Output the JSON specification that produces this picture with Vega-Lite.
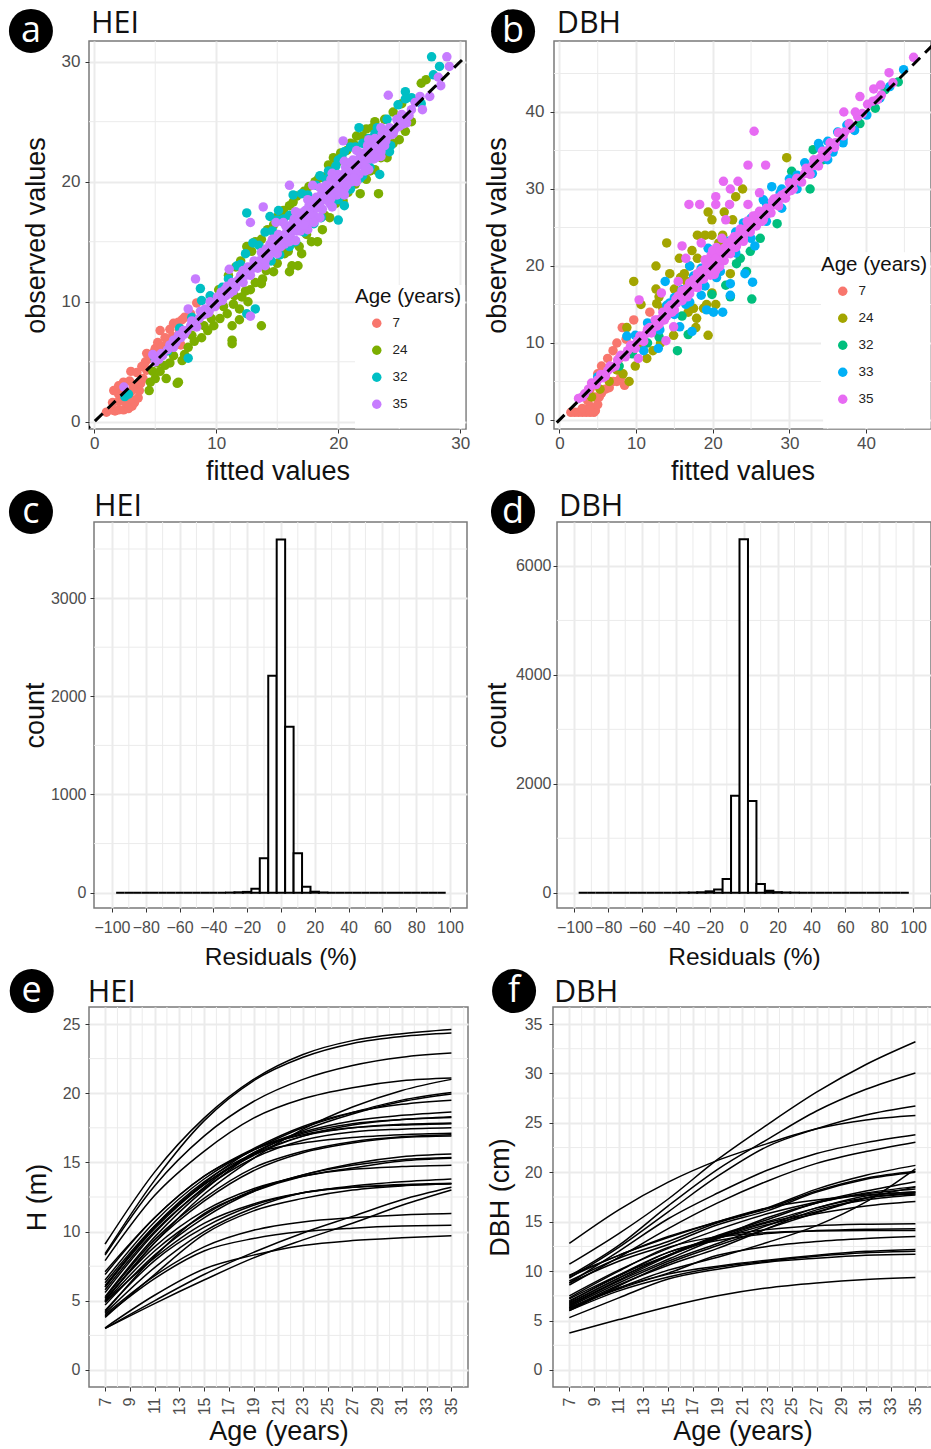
{"$schema":"https://vega.github.io/schema/vega-lite/v6.json","padding":{"left":1,"top":8,"right":0,"bottom":0},"columns":1,"align":"none","spacing":-2,"concat":[
{"columns":1,"align":"none","spacing":4,"concat":[
{"spacing":0,"hconcat":[{"width":1,"height":1,"view":{"stroke":null},"data":{"values":[{"x":0}]},"mark":{"type":"point","opacity":0},"encoding":{}},
{"spacing":11,"resolve":{"scale":{"color":"independent"}},"hconcat":[
{"width":377,"height":388,
"encoding":{"x":{"field":"x","type":"quantitative","scale":{"domain":[-0.43,30.47],"nice":false,"zero":false},"axis":{"values":[0,10,20,30],"title":"fitted values","titlePadding":7}},"y":{"field":"y","type":"quantitative","scale":{"domain":[-0.6,31.72],"nice":false,"zero":false},"axis":{"values":[0,10,20,30],"title":"observed values","labelPadding":5,"titlePadding":11}}},
"layer":[
{"data":{"values":[{"x":5},{"x":15},{"x":25}]},"mark":{"type":"rule","color":"#EBEBEB","strokeWidth":1},"encoding":{"y":null}},
{"data":{"values":[{"y":5},{"y":15},{"y":25}]},"mark":{"type":"rule","color":"#EBEBEB","strokeWidth":1},"encoding":{"x":null}},
{"data":{"values":[{"x":21.37,"x2":30.4,"y":-0.55,"y2":11.4}]},"mark":{"type":"rect","color":"white"},"encoding":{"x2":{"field":"x2"},"y2":{"field":"y2"}}},
{"data":{"values":[
{"x":1.0,"y":0.8,"g":7},{"x":1.4,"y":1.0,"g":7},{"x":1.7,"y":0.9,"g":7},{"x":2.0,"y":1.0,"g":7},{"x":2.4,"y":1.0,"g":7},{"x":2.8,"y":1.1,"g":7},{"x":3.1,"y":1.3,"g":7},{"x":3.3,"y":1.6,"g":7},{"x":1.5,"y":1.6,"g":7},{"x":2.0,"y":1.7,"g":7},{"x":2.6,"y":1.6,"g":7},{"x":3.0,"y":1.9,"g":7},{"x":3.6,"y":2.0,"g":7},{"x":1.6,"y":2.6,"g":7},{"x":2.0,"y":3.0,"g":7},{"x":2.5,"y":2.3,"g":7},{"x":2.0,"y":2.3,"g":7},{"x":3.1,"y":2.6,"g":7},{"x":3.7,"y":2.6,"g":7},{"x":2.4,"y":3.3,"g":7},{"x":2.9,"y":3.4,"g":7},{"x":3.2,"y":3.0,"g":7},{"x":3.8,"y":3.2,"g":7},{"x":3.0,"y":4.2,"g":7},{"x":3.5,"y":4.1,"g":7},{"x":4.0,"y":3.6,"g":7},{"x":3.9,"y":4.6,"g":7},{"x":4.3,"y":4.3,"g":7},{"x":4.2,"y":5.0,"g":7},{"x":4.6,"y":5.3,"g":7},{"x":4.3,"y":5.7,"g":7},{"x":4.9,"y":5.8,"g":7},{"x":5.0,"y":6.1,"g":7},{"x":5.1,"y":5.0,"g":7},{"x":5.2,"y":6.6,"g":7},{"x":5.6,"y":6.3,"g":7},{"x":5.4,"y":7.6,"g":7},{"x":5.8,"y":7.0,"g":7},{"x":6.2,"y":7.7,"g":7},{"x":6.0,"y":6.5,"g":7},{"x":6.5,"y":8.2,"g":7},{"x":6.4,"y":7.1,"g":7},{"x":6.9,"y":8.3,"g":7},{"x":7.2,"y":8.5,"g":7},{"x":7.4,"y":8.7,"g":7},{"x":7.9,"y":9.0,"g":7},{"x":8.4,"y":9.9,"g":7},{"x":7.0,"y":7.6,"g":7},{"x":7.1,"y":6.4,"g":7},
{"x":4.5,"y":2.6,"g":24},{"x":4.6,"y":3.3,"g":24},{"x":5.0,"y":3.6,"g":24},{"x":5.9,"y":3.6,"g":24},{"x":6.9,"y":3.3,"g":24},{"x":6.8,"y":3.2,"g":24},{"x":4.8,"y":4.2,"g":24},{"x":5.4,"y":4.2,"g":24},{"x":5.8,"y":4.7,"g":24},{"x":6.2,"y":4.9,"g":24},{"x":7.2,"y":5.1,"g":24},{"x":7.4,"y":5.6,"g":24},{"x":7.7,"y":6.2,"g":24},{"x":8.2,"y":6.7,"g":24},{"x":8.8,"y":7.0,"g":24},{"x":9.3,"y":7.6,"g":24},{"x":9.8,"y":8.0,"g":24},{"x":10.3,"y":8.6,"g":24},{"x":10.9,"y":9.0,"g":24},{"x":11.3,"y":8.0,"g":24},{"x":13.7,"y":8.0,"g":24},{"x":11.3,"y":6.8,"g":24},{"x":11.3,"y":6.5,"g":24},{"x":12.6,"y":10,"g":24},{"x":11.9,"y":9.4,"g":24},{"x":11.9,"y":8.5,"g":24},{"x":11.4,"y":9.8,"g":24},{"x":12.1,"y":10.4,"g":24},{"x":12.8,"y":11,"g":24},{"x":13.7,"y":11.5,"g":24},{"x":13.8,"y":11.9,"g":24},{"x":14.7,"y":12.5,"g":24},{"x":16,"y":12.5,"g":24},{"x":16.2,"y":13,"g":24},{"x":16.7,"y":13,"g":24},{"x":15.6,"y":14,"g":24},{"x":17,"y":14,"g":24},{"x":16.8,"y":14.6,"g":24},{"x":17.8,"y":15,"g":24},{"x":18.3,"y":15,"g":24},{"x":18.7,"y":16,"g":24},{"x":19.3,"y":17,"g":24},{"x":20.4,"y":18.4,"g":24},{"x":21.8,"y":19,"g":24},{"x":23.3,"y":19,"g":24},{"x":22.3,"y":20.2,"g":24},{"x":23,"y":21,"g":24},{"x":24,"y":22,"g":24},{"x":25,"y":23.5,"g":24},{"x":25.5,"y":24.2,"g":24},{"x":26,"y":25,"g":24},{"x":10.2,"y":11,"g":24},{"x":11,"y":12.2,"g":24},{"x":11.6,"y":12.9,"g":24},{"x":12.5,"y":14.6,"g":24},{"x":13.2,"y":15,"g":24},{"x":14.2,"y":16,"g":24},{"x":15.1,"y":17.2,"g":24},{"x":16,"y":18,"g":24},{"x":16.6,"y":18.8,"g":24},{"x":17.2,"y":19.2,"g":24},{"x":18.1,"y":20,"g":24},{"x":18.7,"y":20.4,"g":24},{"x":19.2,"y":21.4,"g":24},{"x":19.6,"y":22,"g":24},{"x":20.2,"y":22.4,"g":24},{"x":21,"y":23.2,"g":24},{"x":21.5,"y":23.8,"g":24},{"x":22.3,"y":24.4,"g":24},{"x":23,"y":25,"g":24},{"x":23.5,"y":24.2,"g":24},{"x":24.5,"y":25.8,"g":24},{"x":25.2,"y":26.5,"g":24},{"x":26.8,"y":28.2,"g":24},{"x":27.2,"y":28.5,"g":24},{"x":12.4,"y":10.9,"g":24},{"x":13.2,"y":11.6,"g":24},{"x":14.1,"y":12.6,"g":24},{"x":15,"y":13.2,"g":24},{"x":15.9,"y":14.2,"g":24},{"x":16.5,"y":14.9,"g":24},{"x":17.4,"y":15.6,"g":24},{"x":18.9,"y":17.2,"g":24},{"x":19.8,"y":18.2,"g":24},{"x":20.8,"y":19.1,"g":24},{"x":21.4,"y":19.8,"g":24},{"x":22.6,"y":20.9,"g":24},{"x":23.5,"y":22,"g":24},{"x":24.5,"y":23.2,"g":24},{"x":12,"y":13.4,"g":24},{"x":12.9,"y":14.2,"g":24},{"x":13.7,"y":15.2,"g":24},{"x":14.7,"y":16.4,"g":24},{"x":15.5,"y":17.6,"g":24},{"x":16.3,"y":18.3,"g":24},{"x":17.6,"y":19.6,"g":24},{"x":18.4,"y":20.3,"g":24},{"x":19.9,"y":21.6,"g":24},{"x":20.7,"y":22.6,"g":24},{"x":21.3,"y":23.1,"g":24},{"x":22,"y":23.8,"g":24},{"x":22.8,"y":24.5,"g":24},{"x":23.8,"y":25.2,"g":24},{"x":5.2,"y":4.9,"g":24},{"x":6.5,"y":5.5,"g":24},{"x":8,"y":7.2,"g":24},{"x":9,"y":8,"g":24},{"x":9.6,"y":8.6,"g":24},{"x":10.6,"y":9.6,"g":24},{"x":11.5,"y":10.5,"g":24},
{"x":27.65,"y":30.4,"g":32},{"x":28.3,"y":29.6,"g":32},{"x":25.5,"y":27.5,"g":32},{"x":25.5,"y":26.9,"g":32},{"x":24.9,"y":26.4,"g":32},{"x":21.7,"y":24.5,"g":32},{"x":23.4,"y":20.6,"g":32},{"x":24.2,"y":22.5,"g":32},{"x":12.5,"y":17.4,"g":32},{"x":14.4,"y":17.1,"g":32},{"x":15.1,"y":17.6,"g":32},{"x":16.3,"y":18.9,"g":32},{"x":20,"y":16.8,"g":32},{"x":20.5,"y":18,"g":32},{"x":13.2,"y":9.4,"g":32},{"x":12.5,"y":9,"g":32},{"x":8.7,"y":11.1,"g":32},{"x":8.8,"y":10.1,"g":32},{"x":7.7,"y":5.3,"g":32},{"x":2.5,"y":2.1,"g":32},{"x":2.8,"y":2.3,"g":32},{"x":27.8,"y":28.9,"g":32},{"x":26.8,"y":26.5,"g":32},{"x":5,"y":5.2,"g":32},{"x":6,"y":5.9,"g":32},{"x":7,"y":7.8,"g":32},{"x":8,"y":8.7,"g":32},{"x":9.5,"y":10.5,"g":32},{"x":10.5,"y":11.2,"g":32},{"x":11.7,"y":13,"g":32},{"x":12.4,"y":14,"g":32},{"x":13,"y":14.9,"g":32},{"x":14,"y":15.8,"g":32},{"x":15,"y":16.8,"g":32},{"x":17,"y":19,"g":32},{"x":18.5,"y":20.5,"g":32},{"x":19,"y":20.2,"g":32},{"x":20,"y":21.8,"g":32},{"x":20.5,"y":22.5,"g":32},{"x":21,"y":22.9,"g":32},{"x":22.5,"y":23.6,"g":32},{"x":23.2,"y":24.5,"g":32},{"x":24,"y":25.2,"g":32},{"x":14.5,"y":13.4,"g":32},{"x":16.5,"y":15,"g":32},{"x":18,"y":16.5,"g":32},{"x":19.5,"y":18,"g":32},{"x":21,"y":19.4,"g":32},{"x":22,"y":20.5,"g":32},{"x":23,"y":22,"g":32},{"x":26,"y":27,"g":32},{"x":11,"y":11.9,"g":32},{"x":12,"y":13.1,"g":32},{"x":13.5,"y":14.7,"g":32},{"x":14.6,"y":15.9,"g":32},{"x":15.5,"y":16.9,"g":32},{"x":16,"y":17.2,"g":32},{"x":17.5,"y":18.9,"g":32},{"x":18.2,"y":19.7,"g":32},{"x":19.2,"y":20.9,"g":32},{"x":19.8,"y":21.3,"g":32},{"x":20.3,"y":22,"g":32},{"x":21.4,"y":22.9,"g":32},{"x":22,"y":23.2,"g":32},{"x":23,"y":24,"g":32},{"x":15.2,"y":13.9,"g":32},{"x":16,"y":14.6,"g":32},{"x":17.2,"y":15.8,"g":32},{"x":18.6,"y":17,"g":32},{"x":20,"y":18.5,"g":32},{"x":20.8,"y":19.3,"g":32},{"x":21.8,"y":20.3,"g":32},{"x":22.6,"y":21.2,"g":32},{"x":24.3,"y":23,"g":32},
{"x":2.43,"y":2.9,"g":35},{"x":8.3,"y":11.9,"g":35},{"x":7.7,"y":9.4,"g":35},{"x":12.8,"y":8.8,"g":35},{"x":13.85,"y":17.9,"g":35},{"x":12.8,"y":16.6,"g":35},{"x":14.9,"y":16.6,"g":35},{"x":16,"y":19.7,"g":35},{"x":17.9,"y":19.7,"g":35},{"x":11.06,"y":12.7,"g":35},{"x":20.4,"y":23.4,"g":35},{"x":24.1,"y":27.2,"g":35},{"x":28.9,"y":30.4,"g":35},{"x":29.1,"y":29.6,"g":35},{"x":28.4,"y":28,"g":35},{"x":27.5,"y":27.1,"g":35},{"x":28.2,"y":28.7,"g":35},{"x":26.7,"y":27.1,"g":35},{"x":26.3,"y":26.6,"g":35},{"x":26.9,"y":26.0,"g":35},{"x":25.4,"y":25.3,"g":35},{"x":24.9,"y":25.0,"g":35},{"x":25.6,"y":24.9,"g":35},
{"x":4.8,"y":5.6,"g":35},{"x":5.3,"y":5.2,"g":35},{"x":5.5,"y":5.7,"g":35},{"x":6.2,"y":6.4,"g":35},{"x":6.7,"y":6.6,"g":35},{"x":6.9,"y":7.2,"g":35},{"x":7.6,"y":7.6,"g":35},{"x":8,"y":8.4,"g":35},{"x":8.4,"y":7.9,"g":35},{"x":8.9,"y":8.9,"g":35},{"x":9.4,"y":9.1,"g":35},{"x":9.5,"y":10,"g":35},{"x":9.9,"y":9.6,"g":35},{"x":10.1,"y":10.4,"g":35},{"x":10.5,"y":10.1,"g":35},{"x":10.7,"y":11,"g":35},{"x":11.1,"y":10.7,"g":35},{"x":11.3,"y":11.6,"g":35},{"x":11.6,"y":11.2,"g":35},{"x":12,"y":12.2,"g":35},{"x":12.2,"y":11.6,"g":35},{"x":12.6,"y":12.9,"g":35},{"x":12.8,"y":12.2,"g":35},{"x":13.1,"y":13.4,"g":35},{"x":13.4,"y":12.8,"g":35},{"x":13.7,"y":14.1,"g":35},{"x":14,"y":13.4,"g":35},{"x":14.1,"y":14.4,"g":35},{"x":14.5,"y":14.1,"g":35},{"x":14.6,"y":15.2,"g":35},{"x":15,"y":14.4,"g":35},{"x":15.1,"y":15.6,"g":35},{"x":15.4,"y":15.1,"g":35},{"x":15.6,"y":14.8,"g":35},{"x":15.7,"y":16.3,"g":35},{"x":16.1,"y":15.7,"g":35},{"x":16.2,"y":15.2,"g":35},{"x":16.4,"y":16.9,"g":35},{"x":16.7,"y":16.4,"g":35},{"x":16.9,"y":15.9,"g":35},{"x":17,"y":17.4,"g":35},{"x":17.3,"y":17,"g":35},{"x":17.5,"y":16.5,"g":35},{"x":17.6,"y":18,"g":35},{"x":17.9,"y":17.6,"g":35},{"x":18.1,"y":17.1,"g":35},{"x":18.2,"y":18.7,"g":35},{"x":18.5,"y":18.2,"g":35},{"x":18.7,"y":17.7,"g":35},{"x":18.8,"y":19.4,"g":35},{"x":19.1,"y":18.8,"g":35},{"x":19.3,"y":18.2,"g":35},{"x":19.4,"y":20.2,"g":35},{"x":19.7,"y":19.5,"g":35},{"x":19.9,"y":18.9,"g":35},{"x":20,"y":20.6,"g":35},{"x":20.3,"y":20.1,"g":35},{"x":20.5,"y":19.4,"g":35},{"x":20.6,"y":21.2,"g":35},{"x":20.9,"y":20.7,"g":35},{"x":21.1,"y":20,"g":35},{"x":21.2,"y":21.8,"g":35},{"x":21.5,"y":21.2,"g":35},{"x":21.7,"y":20.6,"g":35},{"x":21.8,"y":22.4,"g":35},{"x":22.1,"y":21.8,"g":35},{"x":22.3,"y":21.2,"g":35},{"x":22.4,"y":23,"g":35},{"x":22.7,"y":22.4,"g":35},{"x":22.9,"y":21.9,"g":35},{"x":23,"y":23.6,"g":35},{"x":23.3,"y":23,"g":35},{"x":23.5,"y":22.5,"g":35},{"x":23.6,"y":24,"g":35},{"x":23.9,"y":23.4,"g":35},{"x":24.2,"y":24.5,"g":35},{"x":24.3,"y":23.9,"g":35},
{"x":5,"y":5,"g":35},{"x":5.6,"y":5.5,"g":35},{"x":6,"y":6,"g":35},{"x":6.5,"y":6.8,"g":35},{"x":7.1,"y":7,"g":35},{"x":7.4,"y":7.3,"g":35},{"x":8.1,"y":8,"g":35},{"x":8.6,"y":8.6,"g":35},{"x":9.1,"y":9.4,"g":35},{"x":9.6,"y":9.5,"g":35},{"x":10.2,"y":10,"g":35},{"x":10.8,"y":10.5,"g":35},{"x":11.2,"y":11.2,"g":35},{"x":11.8,"y":11.8,"g":35},{"x":12.4,"y":12.2,"g":35},{"x":13,"y":12.8,"g":35},{"x":13.5,"y":13.4,"g":35},{"x":14,"y":14,"g":35},{"x":14.4,"y":14.8,"g":35},{"x":14.8,"y":14.6,"g":35},{"x":15.2,"y":15.2,"g":35},{"x":15.6,"y":15.6,"g":35},{"x":16,"y":16,"g":35},{"x":16.3,"y":16.6,"g":35},{"x":16.6,"y":15.9,"g":35},{"x":17,"y":16.8,"g":35},{"x":17.3,"y":17.6,"g":35},{"x":17.7,"y":17.2,"g":35},{"x":18,"y":18.2,"g":35},{"x":18.3,"y":17.8,"g":35},{"x":18.6,"y":18.9,"g":35},{"x":19,"y":18.5,"g":35},{"x":19.2,"y":19.4,"g":35},{"x":19.6,"y":19,"g":35},{"x":19.9,"y":20,"g":35},{"x":20.2,"y":19.7,"g":35},{"x":20.5,"y":20.7,"g":35},{"x":20.8,"y":20.2,"g":35},{"x":21.1,"y":21.3,"g":35},{"x":21.4,"y":20.7,"g":35},{"x":21.7,"y":21.9,"g":35},{"x":22,"y":21.4,"g":35},{"x":22.3,"y":22.5,"g":35},{"x":22.6,"y":21.9,"g":35},{"x":22.9,"y":23.1,"g":35},{"x":23.2,"y":22.6,"g":35},{"x":23.5,"y":23.4,"g":35},{"x":23.8,"y":23,"g":35},{"x":24.1,"y":24,"g":35},{"x":24.6,"y":24.3,"g":35},{"x":25,"y":24.6,"g":35},{"x":25.2,"y":25.6,"g":35},{"x":25.8,"y":25.5,"g":35},{"x":26,"y":26,"g":35},{"x":16.5,"y":15.1,"g":35},{"x":17.5,"y":16,"g":35},{"x":18.5,"y":17,"g":35},{"x":19.5,"y":17.9,"g":35},{"x":20.5,"y":18.9,"g":35},{"x":21.5,"y":20,"g":35},{"x":22.5,"y":21,"g":35},{"x":15,"y":14,"g":35},{"x":14,"y":13,"g":35},{"x":16,"y":15,"g":35},{"x":23.5,"y":22.1,"g":35},{"x":15.5,"y":16.6,"g":35},{"x":16.5,"y":17.5,"g":35},{"x":17.5,"y":18.5,"g":35},{"x":18.5,"y":19.5,"g":35},{"x":19.5,"y":20.7,"g":35},{"x":20.5,"y":21.7,"g":35},{"x":21.5,"y":22.6,"g":35},{"x":22.5,"y":23.5,"g":35},{"x":23.5,"y":24.5,"g":35},
{"x":12.2,"y":12.6,"g":35},{"x":12.7,"y":12.5,"g":35},{"x":13.3,"y":13.1,"g":35},{"x":13.8,"y":13.6,"g":35},{"x":14.3,"y":13.8,"g":35},{"x":14.8,"y":15.2,"g":35},{"x":15.3,"y":14.6,"g":35},{"x":15.8,"y":15.4,"g":35},{"x":16.2,"y":16.4,"g":35},{"x":16.8,"y":17,"g":35},{"x":17.2,"y":16.4,"g":35},{"x":17.8,"y":18.4,"g":35},{"x":18,"y":16.6,"g":35},{"x":18.4,"y":18.5,"g":35},{"x":19,"y":19.7,"g":35},{"x":19.4,"y":18.6,"g":35},{"x":19.8,"y":20.3,"g":35},{"x":20,"y":19.2,"g":35},{"x":20.4,"y":20.4,"g":35},{"x":20.7,"y":19.7,"g":35},{"x":21,"y":21.6,"g":35},{"x":21.3,"y":20.3,"g":35},{"x":21.6,"y":21.5,"g":35},{"x":21.9,"y":22.2,"g":35},{"x":22.2,"y":20.9,"g":35},{"x":22.5,"y":22.1,"g":35},{"x":22.8,"y":22.7,"g":35},{"x":23.1,"y":22,"g":35},{"x":23.4,"y":23.4,"g":35},{"x":24.5,"y":24,"g":35},{"x":24.8,"y":25.2,"g":35},{"x":25.3,"y":24.8,"g":35},{"x":10.4,"y":10.8,"g":35},{"x":10.9,"y":11.3,"g":35},{"x":11.4,"y":10.9,"g":35},{"x":9.2,"y":9,"g":35},{"x":8.7,"y":9.2,"g":35},{"x":7.9,"y":8,"g":35},{"x":7.3,"y":7.6,"g":35},{"x":6.5,"y":6.2,"g":35}
]},"mark":{"type":"point","filled":true,"opacity":1,"size":90,"strokeWidth":0},"encoding":{"color":{"field":"g","type":"nominal","scale":{"domain":[7,24,32,35],"range":["#F8766D","#7CAE00","#00BFC4","#C77CFF"]},"legend":{"title":"Age (years)","orient":"none","legendX":266,"legendY":246,"fillColor":"white","symbolOffset":15,"labelOffset":9,"rowPadding":12}}}},
{"data":{"values":[{"x":-1,"y":-1},{"x":33,"y":33}]},"mark":{"type":"line","color":"black","strokeWidth":3,"strokeDash":[11,7],"clip":true}},
{"data":{"values":[{"x":-5.19,"y":32.56}]},"mark":{"type":"point","filled":true,"opacity":1,"size":1936,"color":"black","strokeWidth":0}},
{"data":{"values":[{"x":-5.19,"y":32.56,"t":"a"}]},"mark":{"type":"text","color":"white","font":"Open Sans","fontSize":36,"baseline":"middle","align":"center"},"encoding":{"text":{"field":"t"}}},
{"data":{"values":[{"x":-0.27,"y":32.4,"t":"HEI"}]},"mark":{"type":"text","color":"#111111","font":"Open Sans","fontSize":30.5,"baseline":"alphabetic","align":"left"},"encoding":{"text":{"field":"t"}}}
]},
{"width":377,"height":388,
"encoding":{"x":{"field":"x","type":"quantitative","scale":{"domain":[-0.7,48.47],"nice":false,"zero":false},"axis":{"values":[0,10,20,30,40],"title":"fitted values","titlePadding":7}},"y":{"field":"y","type":"quantitative","scale":{"domain":[-1.17,49.22],"nice":false,"zero":false},"axis":{"values":[0,10,20,30,40],"title":"observed values","labelPadding":6,"titlePadding":14}}},
"layer":[
{"data":{"values":[{"x":5},{"x":15},{"x":25},{"x":35},{"x":45}]},"mark":{"type":"rule","color":"#EBEBEB","strokeWidth":1},"encoding":{"y":null}},
{"data":{"values":[{"y":5},{"y":15},{"y":25},{"y":35},{"y":45}]},"mark":{"type":"rule","color":"#EBEBEB","strokeWidth":1},"encoding":{"x":null}},
{"data":{"values":[{"x":34.4,"x2":48.4,"y":-1.1,"y2":21.8}]},"mark":{"type":"rect","color":"white"},"encoding":{"x2":{"field":"x2"},"y2":{"field":"y2"}}},
{"data":{"values":[
{"x":1.5,"y":1,"g":7},{"x":2,"y":1,"g":7},{"x":2.5,"y":1,"g":7},{"x":3,"y":1,"g":7},{"x":3.5,"y":1,"g":7},{"x":4,"y":1,"g":7},{"x":4.5,"y":1,"g":7},{"x":4.7,"y":1.2,"g":7},{"x":3,"y":1.5,"g":7},{"x":4,"y":1.8,"g":7},{"x":5,"y":2,"g":7},{"x":5.2,"y":3,"g":7},{"x":5.5,"y":3.5,"g":7},{"x":6,"y":4,"g":7},{"x":6.5,"y":4.2,"g":7},{"x":7,"y":5,"g":7},{"x":7.5,"y":5,"g":7},{"x":8,"y":5.5,"g":7},{"x":8.5,"y":4.5,"g":7},{"x":4,"y":4,"g":7},{"x":5,"y":6,"g":7},{"x":5.5,"y":7,"g":7},{"x":6.3,"y":8,"g":7},{"x":7,"y":9,"g":7},{"x":7.5,"y":10,"g":7},{"x":8.2,"y":12,"g":7},{"x":9.7,"y":13,"g":7},{"x":11.8,"y":14,"g":7},{"x":8.7,"y":10.5,"g":7},{"x":7.8,"y":8,"g":7},{"x":3.7,"y":2.5,"g":7},{"x":4.6,"y":3,"g":7},
{"x":29.65,"y":34.07,"g":24},{"x":23.9,"y":30,"g":24},{"x":23,"y":29,"g":24},{"x":19.4,"y":27,"g":24},{"x":19.9,"y":26,"g":24},{"x":21.5,"y":27,"g":24},{"x":22.6,"y":26,"g":24},{"x":18,"y":24,"g":24},{"x":19,"y":24,"g":24},{"x":19.9,"y":24,"g":24},{"x":21.3,"y":24,"g":24},{"x":14,"y":23,"g":24},{"x":17.3,"y":22,"g":24},{"x":12.6,"y":20,"g":24},{"x":15.65,"y":21,"g":24},{"x":14.4,"y":19,"g":24},{"x":9.7,"y":18,"g":24},{"x":12.6,"y":17,"g":24},{"x":10.65,"y":15,"g":24},{"x":12.7,"y":15.1,"g":24},{"x":16.3,"y":19,"g":24},{"x":16.6,"y":18,"g":24},{"x":17.9,"y":13.2,"g":24},{"x":17.8,"y":12,"g":24},{"x":19.4,"y":11,"g":24},{"x":14.9,"y":11,"g":24},{"x":11.4,"y":8,"g":24},{"x":9.9,"y":7,"g":24},{"x":9.1,"y":5,"g":24},{"x":8.3,"y":6,"g":24},{"x":5.3,"y":4,"g":24},{"x":4.2,"y":3,"g":24},{"x":19.9,"y":16.5,"g":24},{"x":18.8,"y":14.5,"g":24},{"x":8.8,"y":12,"g":24},{"x":22.3,"y":19,"g":24},{"x":13,"y":16,"g":24},{"x":13.5,"y":14.5,"g":24},{"x":15,"y":17,"g":24},{"x":15.8,"y":18.5,"g":24},{"x":17,"y":20,"g":24},{"x":18,"y":21,"g":24},{"x":16.8,"y":14,"g":24},{"x":17.5,"y":14.5,"g":24},{"x":19.2,"y":15,"g":24},{"x":20.4,"y":15,"g":24},{"x":13.2,"y":10,"g":24},{"x":12.2,"y":9,"g":24},{"x":10.8,"y":9.5,"g":24},{"x":6.5,"y":5,"g":24},{"x":7.5,"y":6.5,"g":24},{"x":20.8,"y":23,"g":24},
{"x":32.7,"y":30,"g":32},{"x":28.4,"y":25.5,"g":32},{"x":26.2,"y":23.6,"g":32},{"x":24.9,"y":21.9,"g":32},{"x":24.4,"y":19.3,"g":32},{"x":25.1,"y":15.7,"g":32},{"x":22.3,"y":16,"g":32},{"x":21.7,"y":17.5,"g":32},{"x":15.4,"y":9,"g":32},{"x":16.8,"y":11.1,"g":32},{"x":44.2,"y":43.9,"g":32},{"x":42.5,"y":42.9,"g":32},{"x":41.2,"y":40.5,"g":32},{"x":39.2,"y":38.5,"g":32},{"x":34.4,"y":33.8,"g":32},{"x":33.1,"y":35.1,"g":32},{"x":30.3,"y":32.3,"g":32},{"x":23.1,"y":20.3,"g":32},{"x":23.6,"y":21,"g":32},{"x":19.9,"y":16.3,"g":32},{"x":16,"y":13.5,"g":32},{"x":13,"y":10.8,"g":32},{"x":11.5,"y":10,"g":32},{"x":9.5,"y":8.6,"g":32},{"x":7.8,"y":7,"g":32},
{"x":44.9,"y":45.5,"g":33},{"x":43.1,"y":43.3,"g":33},{"x":41.8,"y":41.8,"g":33},{"x":40.1,"y":39.6,"g":33},{"x":37.5,"y":38.3,"g":33},{"x":37,"y":36.4,"g":33},{"x":33.8,"y":35.9,"g":33},{"x":35.7,"y":34.8,"g":33},{"x":27.7,"y":30.3,"g":33},{"x":26.6,"y":28.6,"g":33},{"x":25.5,"y":22.6,"g":33},{"x":25.2,"y":17.9,"g":33},{"x":24.2,"y":19,"g":33},{"x":22.3,"y":17.7,"g":33},{"x":22.3,"y":16.2,"g":33},{"x":21.3,"y":14,"g":33},{"x":20.1,"y":14,"g":33},{"x":19.2,"y":14.3,"g":33},{"x":17.3,"y":11.5,"g":33},{"x":15.7,"y":12.1,"g":33},{"x":12.9,"y":9.3,"g":33},{"x":11,"y":9,"g":33},{"x":8.8,"y":10.9,"g":33},{"x":13.8,"y":18,"g":33},{"x":17,"y":20,"g":33},{"x":19.4,"y":22.3,"g":33},{"x":14.4,"y":15.2,"g":33},{"x":13.1,"y":11.7,"g":33},{"x":28.8,"y":29.5,"g":33},{"x":24,"y":25.6,"g":33},{"x":20.5,"y":18.5,"g":33},{"x":18.5,"y":16.2,"g":33},{"x":16.5,"y":15,"g":33},{"x":31,"y":31.8,"g":33},{"x":36.3,"y":37.4,"g":33},{"x":38.5,"y":37.6,"g":33},{"x":9.9,"y":11,"g":33},{"x":11.5,"y":12.6,"g":33},{"x":5,"y":5.6,"g":33},{"x":14,"y":14.9,"g":33},{"x":15,"y":15.9,"g":33},{"x":16,"y":16.9,"g":33},{"x":17.5,"y":18.7,"g":33},{"x":18.5,"y":19.7,"g":33},{"x":20,"y":21.5,"g":33},{"x":22,"y":23.2,"g":33},{"x":23,"y":24.4,"g":33},{"x":25,"y":26.2,"g":33},{"x":27,"y":28.1,"g":33},{"x":29,"y":30,"g":33},{"x":30,"y":31.3,"g":33},{"x":32,"y":33.4,"g":33},{"x":34,"y":35.3,"g":33},{"x":35,"y":36.2,"g":33},{"x":13,"y":11.9,"g":33},{"x":15,"y":13.7,"g":33},{"x":17,"y":15.3,"g":33},{"x":19,"y":17.4,"g":33},{"x":21,"y":19.3,"g":33},{"x":23,"y":21.7,"g":33},{"x":25,"y":23.6,"g":33},{"x":27,"y":25.8,"g":33},{"x":29,"y":27.5,"g":33},{"x":31,"y":30,"g":33},{"x":33,"y":32,"g":33},{"x":35,"y":33.8,"g":33},{"x":37,"y":36,"g":33},
{"x":46.2,"y":47.1,"g":35},{"x":43,"y":45.1,"g":35},{"x":41.9,"y":43.5,"g":35},{"x":41,"y":43,"g":35},{"x":39.2,"y":42,"g":35},{"x":38.6,"y":40,"g":35},{"x":37.1,"y":40,"g":35},{"x":25.4,"y":37.5,"g":35},{"x":24.6,"y":33.1,"g":35},{"x":26.9,"y":33.1,"g":35},{"x":21.4,"y":31,"g":35},{"x":23.3,"y":31,"g":35},{"x":22.3,"y":30,"g":35},{"x":20.4,"y":29,"g":35},{"x":16.9,"y":28,"g":35},{"x":18.3,"y":28,"g":35},{"x":20.4,"y":28,"g":35},{"x":22.2,"y":28,"g":35},{"x":24.6,"y":28,"g":35},{"x":26.1,"y":29.5,"g":35},{"x":21.7,"y":26,"g":35},{"x":16,"y":22.6,"g":35},{"x":18.5,"y":23,"g":35},{"x":16.5,"y":21,"g":35},{"x":10.4,"y":15.6,"g":35},{"x":13.3,"y":16.5,"g":35},{"x":15.5,"y":18,"g":35},{"x":13.9,"y":10.3,"g":35},{"x":10.3,"y":8,"g":35},{"x":14.9,"y":12.1,"g":35},
{"x":2.5,"y":2.8,"g":35},{"x":3.3,"y":3.4,"g":35},{"x":4.2,"y":4.8,"g":35},{"x":4.8,"y":4.6,"g":35},{"x":5.4,"y":5.9,"g":35},{"x":6,"y":5.7,"g":35},{"x":6.6,"y":7,"g":35},{"x":7.3,"y":7,"g":35},{"x":8,"y":8.4,"g":35},{"x":8.6,"y":8.2,"g":35},{"x":9.3,"y":9.7,"g":35},{"x":9.9,"y":9.3,"g":35},{"x":10.5,"y":10.9,"g":35},{"x":11,"y":10.2,"g":35},{"x":11.5,"y":11.8,"g":35},{"x":12,"y":11.3,"g":35},{"x":12.5,"y":13,"g":35},{"x":13,"y":12.4,"g":35},{"x":13.5,"y":14,"g":35},{"x":14,"y":13.5,"g":35},{"x":14.5,"y":14.9,"g":35},{"x":15,"y":14.3,"g":35},{"x":15.5,"y":16.1,"g":35},{"x":16,"y":15.5,"g":35},{"x":16.5,"y":17,"g":35},{"x":17,"y":16.4,"g":35},{"x":17.5,"y":18.2,"g":35},{"x":18,"y":17.5,"g":35},{"x":18.5,"y":19.4,"g":35},{"x":18.8,"y":18.3,"g":35},{"x":19.2,"y":20.5,"g":35},{"x":19.4,"y":19.2,"g":35},{"x":19.8,"y":21.4,"g":35},{"x":20,"y":20.1,"g":35},{"x":20.2,"y":18.9,"g":35},{"x":20.5,"y":22.4,"g":35},{"x":20.7,"y":21,"g":35},{"x":20.9,"y":19.9,"g":35},{"x":21.2,"y":23.6,"g":35},{"x":21.3,"y":22,"g":35},{"x":21.5,"y":20.7,"g":35},{"x":22,"y":23,"g":35},{"x":22.3,"y":21.6,"g":35},{"x":22.8,"y":23.8,"g":35},{"x":23.1,"y":22.6,"g":35},{"x":23.6,"y":24.8,"g":35},{"x":24,"y":23.6,"g":35},{"x":24.5,"y":25.8,"g":35},{"x":24.9,"y":24.4,"g":35},{"x":25.3,"y":26.5,"g":35},{"x":25.7,"y":25.2,"g":35},{"x":26.1,"y":27.1,"g":35},{"x":26.6,"y":26,"g":35},{"x":27,"y":27.5,"g":35},{"x":27.6,"y":26.9,"g":35},{"x":28,"y":28.7,"g":35},{"x":28.6,"y":27.8,"g":35},{"x":29,"y":29.2,"g":35},{"x":29.5,"y":28.8,"g":35},{"x":30,"y":30.8,"g":35},{"x":30.5,"y":30,"g":35},{"x":31,"y":31.4,"g":35},{"x":31.6,"y":30.9,"g":35},{"x":32.2,"y":32.7,"g":35},{"x":32.7,"y":31.9,"g":35},{"x":33.2,"y":33.8,"g":35},{"x":33.8,"y":33,"g":35},{"x":34.3,"y":34.9,"g":35},{"x":34.8,"y":34.2,"g":35},{"x":35.3,"y":36,"g":35},{"x":35.9,"y":35.4,"g":35},{"x":36.4,"y":37.3,"g":35},{"x":37,"y":36.9,"g":35},{"x":37.8,"y":38.5,"g":35},{"x":38.9,"y":39.4,"g":35},{"x":40.2,"y":41,"g":35},{"x":40.9,"y":41.4,"g":35},{"x":42,"y":42.2,"g":35},{"x":43.5,"y":43.8,"g":35},
{"x":3,"y":3,"g":35},{"x":3.8,"y":4,"g":35},{"x":4.5,"y":4.6,"g":35},{"x":5,"y":5.2,"g":35},{"x":5.7,"y":5.5,"g":35},{"x":6.3,"y":6.4,"g":35},{"x":6.9,"y":6.8,"g":35},{"x":7.6,"y":7.8,"g":35},{"x":8.3,"y":8.3,"g":35},{"x":8.9,"y":9,"g":35},{"x":9.6,"y":9.5,"g":35},{"x":10.2,"y":10.3,"g":35},{"x":10.8,"y":10.6,"g":35},{"x":11.3,"y":11.2,"g":35},{"x":11.8,"y":12,"g":35},{"x":12.3,"y":12,"g":35},{"x":12.8,"y":13,"g":35},{"x":13.3,"y":13.2,"g":35},{"x":13.8,"y":13.8,"g":35},{"x":14.3,"y":14.2,"g":35},{"x":14.8,"y":15,"g":35},{"x":15.3,"y":15.2,"g":35},{"x":15.8,"y":15.8,"g":35},{"x":16.3,"y":16.2,"g":35},{"x":16.8,"y":16.8,"g":35},{"x":17.3,"y":17.2,"g":35},{"x":17.8,"y":17.9,"g":35},{"x":18.3,"y":18.2,"g":35},{"x":18.8,"y":18.9,"g":35},{"x":19.1,"y":19.8,"g":35},{"x":19.5,"y":19.6,"g":35},{"x":19.7,"y":18.8,"g":35},{"x":20,"y":20.6,"g":35},{"x":20.3,"y":20,"g":35},{"x":20.6,"y":21.6,"g":35},{"x":20.8,"y":20.4,"g":35},{"x":21.2,"y":21.2,"g":35},{"x":21.6,"y":22.4,"g":35},{"x":21.9,"y":21.8,"g":35},{"x":22.4,"y":22.6,"g":35},{"x":22.7,"y":23,"g":35},{"x":23.2,"y":23.2,"g":35},{"x":23.6,"y":23.6,"g":35},{"x":24.1,"y":24.2,"g":35},{"x":24.5,"y":24.8,"g":35},{"x":25,"y":25,"g":35},{"x":25.4,"y":25.6,"g":35},{"x":25.8,"y":25.8,"g":35},{"x":26.3,"y":26.4,"g":35},{"x":26.8,"y":26.8,"g":35},{"x":27.3,"y":27.4,"g":35},{"x":27.8,"y":27.9,"g":35},{"x":28.4,"y":28.2,"g":35},{"x":29,"y":28.8,"g":35},{"x":29.7,"y":29.6,"g":35},{"x":30.4,"y":30.5,"g":35},{"x":31.3,"y":31.2,"g":35},{"x":32,"y":32,"g":35},{"x":33,"y":33,"g":35},{"x":34,"y":34,"g":35},{"x":35,"y":35,"g":35},{"x":36,"y":36,"g":35},{"x":37.2,"y":37.4,"g":35},{"x":38,"y":37.9,"g":35},{"x":39.5,"y":39.8,"g":35},{"x":41.5,"y":41.6,"g":35},{"x":18,"y":19,"g":35},{"x":19,"y":20.8,"g":35},{"x":20,"y":22,"g":35},{"x":17,"y":17.8,"g":35},{"x":16,"y":16.8,"g":35},
{"x":14.2,"y":14.6,"g":35},{"x":15.2,"y":15.7,"g":35},{"x":16.2,"y":16.7,"g":35},{"x":17.2,"y":17.7,"g":35},{"x":18.2,"y":18.9,"g":35},{"x":19.3,"y":20,"g":35},{"x":19.9,"y":19.4,"g":35},{"x":20.4,"y":19.4,"g":35},{"x":20.4,"y":21,"g":35},{"x":21,"y":22,"g":35},{"x":21.5,"y":21.5,"g":35},{"x":22.1,"y":22.3,"g":35},{"x":22.5,"y":23.4,"g":35},{"x":23,"y":22.4,"g":35},{"x":23.5,"y":24.2,"g":35},{"x":24,"y":23.2,"g":35},{"x":24.5,"y":25,"g":35},{"x":25.2,"y":25.8,"g":35},{"x":25.8,"y":26.6,"g":35},{"x":26.4,"y":25.8,"g":35},{"x":27.2,"y":26.8,"g":35},{"x":27.8,"y":28.4,"g":35},{"x":28.4,"y":28.8,"g":35},{"x":29.4,"y":29.4,"g":35},{"x":30.2,"y":29.8,"g":35},{"x":30.9,"y":31.2,"g":35},{"x":14.7,"y":14,"g":35},{"x":13.7,"y":13,"g":35},{"x":12.7,"y":12.2,"g":35},{"x":11.7,"y":11.6,"g":35},{"x":16.7,"y":16,"g":35},{"x":18,"y":17.2,"g":35}
]},"mark":{"type":"point","filled":true,"opacity":1,"size":90,"strokeWidth":0},"encoding":{"color":{"field":"g","type":"nominal","scale":{"domain":[7,24,32,33,35],"range":["#F8766D","#A3A500","#00BF7D","#00B0F6","#E76BF3"]},"legend":{"title":"Age (years)","orient":"none","legendX":267,"legendY":214,"fillColor":"white","symbolOffset":15,"labelOffset":9,"rowPadding":12}}}},
{"data":{"values":[{"x":-2,"y":-2},{"x":52,"y":52}]},"mark":{"type":"line","color":"black","strokeWidth":3,"strokeDash":[11,7],"clip":true}},
{"data":{"values":[{"x":-6.04,"y":50.5}]},"mark":{"type":"point","filled":true,"opacity":1,"size":1936,"color":"black","strokeWidth":0}},
{"data":{"values":[{"x":-6.04,"y":50.5,"t":"b"}]},"mark":{"type":"text","color":"white","font":"Open Sans","fontSize":36,"baseline":"middle","align":"center"},"encoding":{"text":{"field":"t"}}},
{"data":{"values":[{"x":-0.34,"y":50.26,"t":"DBH"}]},"mark":{"type":"text","color":"#111111","font":"Open Sans","fontSize":30.5,"baseline":"alphabetic","align":"left"},"encoding":{"text":{"field":"t"}}}
]}
]}]},
{"spacing":0,"hconcat":[{"width":1,"height":1,"view":{"stroke":null},"data":{"values":[{"x":0}]},"mark":{"type":"point","opacity":0},"encoding":{}},
{"spacing":13,"hconcat":[
{"width":373,"height":386,
"encoding":{"x":{"field":"x","type":"quantitative","scale":{"domain":[-110.6,110.1],"nice":false,"zero":false},"axis":{"values":[-100,-80,-60,-40,-20,0,20,40,60,80,100],"title":"Residuals (%)","titleFontSize":24.5,"labelFontSize":16,"labelPadding":7,"titlePadding":10}},"y":{"field":"y","type":"quantitative","scale":{"domain":[-156,3775],"nice":false,"zero":false},"axis":{"values":[0,1000,2000,3000],"title":"count","format":"d","labelFontSize":16,"labelPadding":4,"titlePadding":1}}},
"layer":[
{"data":{"values":[{"x":-90},{"x":-70},{"x":-50},{"x":-30},{"x":-10},{"x":10},{"x":30},{"x":50},{"x":70},{"x":90}]},"mark":{"type":"rule","color":"#EBEBEB","strokeWidth":1},"encoding":{"y":null}},
{"data":{"values":[{"y":500},{"y":1500},{"y":2500},{"y":3500}]},"mark":{"type":"rule","color":"#EBEBEB","strokeWidth":1},"encoding":{"x":null}},
{"data":{"values":[{"x":-97.5,"x2":-92.5,"y":0},{"x":-92.5,"x2":-87.5,"y":0},{"x":-87.5,"x2":-82.5,"y":0},{"x":-82.5,"x2":-77.5,"y":0},{"x":-77.5,"x2":-72.5,"y":0},{"x":-72.5,"x2":-67.5,"y":0},{"x":-67.5,"x2":-62.5,"y":0},{"x":-62.5,"x2":-57.5,"y":0},{"x":-57.5,"x2":-52.5,"y":0},{"x":-52.5,"x2":-47.5,"y":0},{"x":-47.5,"x2":-42.5,"y":0},{"x":-42.5,"x2":-37.5,"y":0},{"x":-37.5,"x2":-32.5,"y":0},{"x":-32.5,"x2":-27.5,"y":1},{"x":-27.5,"x2":-22.5,"y":4},{"x":-22.5,"x2":-17.5,"y":8},{"x":-17.5,"x2":-12.5,"y":41},{"x":-12.5,"x2":-7.5,"y":350},{"x":-7.5,"x2":-2.5,"y":2210},{"x":-2.5,"x2":2.5,"y":3598},{"x":2.5,"x2":7.5,"y":1690},{"x":7.5,"x2":12.5,"y":401},{"x":12.5,"x2":17.5,"y":60},{"x":17.5,"x2":22.5,"y":10},{"x":22.5,"x2":27.5,"y":2},{"x":27.5,"x2":32.5,"y":0},{"x":32.5,"x2":37.5,"y":0},{"x":37.5,"x2":42.5,"y":0},{"x":42.5,"x2":47.5,"y":0},{"x":47.5,"x2":52.5,"y":0},{"x":52.5,"x2":57.5,"y":0},{"x":57.5,"x2":62.5,"y":0},{"x":62.5,"x2":67.5,"y":0},{"x":67.5,"x2":72.5,"y":0},{"x":72.5,"x2":77.5,"y":0},{"x":77.5,"x2":82.5,"y":0},{"x":82.5,"x2":87.5,"y":0},{"x":87.5,"x2":92.5,"y":0},{"x":92.5,"x2":97.5,"y":0}]},"mark":{"type":"bar","fill":"white","stroke":"black","strokeWidth":2},"encoding":{"x2":{"field":"x2"},"y2":{"datum":0}}},
{"data":{"values":[{"x":-147.9,"y":3877}]},"mark":{"type":"point","filled":true,"opacity":1,"size":1936,"color":"black","strokeWidth":0}},
{"data":{"values":[{"x":-147.9,"y":3877,"t":"c"}]},"mark":{"type":"text","color":"white","font":"Open Sans","fontSize":36,"baseline":"middle","align":"center"},"encoding":{"text":{"field":"t"}}},
{"data":{"values":[{"x":-110.6,"y":3836,"t":"HEI"}]},"mark":{"type":"text","color":"#111111","font":"Open Sans","fontSize":30.5,"baseline":"alphabetic","align":"left"},"encoding":{"text":{"field":"t"}}}
]},
{"width":374,"height":386,
"encoding":{"x":{"field":"x","type":"quantitative","scale":{"domain":[-110.3,110.6],"nice":false,"zero":false},"axis":{"values":[-100,-80,-60,-40,-20,0,20,40,60,80,100],"title":"Residuals (%)","titleFontSize":24.5,"labelFontSize":16,"labelPadding":7,"titlePadding":10}},"y":{"field":"y","type":"quantitative","scale":{"domain":[-281,6808],"nice":false,"zero":false},"axis":{"values":[0,2000,4000,6000],"title":"count","format":"d","labelFontSize":16,"titlePadding":4}}},
"layer":[
{"data":{"values":[{"x":-90},{"x":-70},{"x":-50},{"x":-30},{"x":-10},{"x":10},{"x":30},{"x":50},{"x":70},{"x":90}]},"mark":{"type":"rule","color":"#EBEBEB","strokeWidth":1},"encoding":{"y":null}},
{"data":{"values":[{"y":1000},{"y":3000},{"y":5000}]},"mark":{"type":"rule","color":"#EBEBEB","strokeWidth":1},"encoding":{"x":null}},
{"data":{"values":[{"x":-97.5,"x2":-92.5,"y":0},{"x":-92.5,"x2":-87.5,"y":0},{"x":-87.5,"x2":-82.5,"y":0},{"x":-82.5,"x2":-77.5,"y":0},{"x":-77.5,"x2":-72.5,"y":0},{"x":-72.5,"x2":-67.5,"y":0},{"x":-67.5,"x2":-62.5,"y":0},{"x":-62.5,"x2":-57.5,"y":0},{"x":-57.5,"x2":-52.5,"y":0},{"x":-52.5,"x2":-47.5,"y":0},{"x":-47.5,"x2":-42.5,"y":0},{"x":-42.5,"x2":-37.5,"y":0},{"x":-37.5,"x2":-32.5,"y":1},{"x":-32.5,"x2":-27.5,"y":3},{"x":-27.5,"x2":-22.5,"y":8},{"x":-22.5,"x2":-17.5,"y":25},{"x":-17.5,"x2":-12.5,"y":61},{"x":-12.5,"x2":-7.5,"y":251},{"x":-7.5,"x2":-2.5,"y":1781},{"x":-2.5,"x2":2.5,"y":6490},{"x":2.5,"x2":7.5,"y":1683},{"x":7.5,"x2":12.5,"y":159},{"x":12.5,"x2":17.5,"y":37},{"x":17.5,"x2":22.5,"y":10},{"x":22.5,"x2":27.5,"y":4},{"x":27.5,"x2":32.5,"y":1},{"x":32.5,"x2":37.5,"y":0},{"x":37.5,"x2":42.5,"y":0},{"x":42.5,"x2":47.5,"y":0},{"x":47.5,"x2":52.5,"y":0},{"x":52.5,"x2":57.5,"y":0},{"x":57.5,"x2":62.5,"y":0},{"x":62.5,"x2":67.5,"y":0},{"x":67.5,"x2":72.5,"y":0},{"x":72.5,"x2":77.5,"y":0},{"x":77.5,"x2":82.5,"y":0},{"x":82.5,"x2":87.5,"y":0},{"x":87.5,"x2":92.5,"y":0},{"x":92.5,"x2":97.5,"y":0}]},"mark":{"type":"bar","fill":"white","stroke":"black","strokeWidth":2},"encoding":{"x2":{"field":"x2"},"y2":{"datum":0}}},
{"data":{"values":[{"x":-136.3,"y":6992}]},"mark":{"type":"point","filled":true,"opacity":1,"size":1936,"color":"black","strokeWidth":0}},
{"data":{"values":[{"x":-136.3,"y":6992,"t":"d"}]},"mark":{"type":"text","color":"white","font":"Open Sans","fontSize":36,"baseline":"middle","align":"center"},"encoding":{"text":{"field":"t"}}},
{"data":{"values":[{"x":-109.1,"y":6918,"t":"DBH"}]},"mark":{"type":"text","color":"#111111","font":"Open Sans","fontSize":30.5,"baseline":"alphabetic","align":"left"},"encoding":{"text":{"field":"t"}}}
]}
]}]}
]},
{"spacing":0,"hconcat":[{"width":1,"height":1,"view":{"stroke":null},"data":{"values":[{"x":0}]},"mark":{"type":"point","opacity":0},"encoding":{}},
{"spacing":15,"hconcat":[
{"width":379,"height":380,
"encoding":{"x":{"field":"x","type":"quantitative","scale":{"domain":[5.7,36.34],"nice":false,"zero":false},"axis":{"values":[7,9,11,13,15,17,19,21,23,25,27,29,31,33,35],"labelAngle":-90,"title":"Age (years)","labelFontSize":16,"labelPadding":6,"titlePadding":4}},"y":{"field":"y","type":"quantitative","scale":{"domain":[-1.23,26.23],"nice":false,"zero":false},"axis":{"values":[0,5,10,15,20,25],"title":"H (m)","labelFontSize":16,"labelPadding":5,"titlePadding":11}}},
"layer":[
{"data":{"values":[{"x":8},{"x":10},{"x":12},{"x":14},{"x":16},{"x":18},{"x":20},{"x":22},{"x":24},{"x":26},{"x":28},{"x":30},{"x":32},{"x":34},{"x":36}]},"mark":{"type":"rule","color":"#EBEBEB","strokeWidth":1},"encoding":{"y":null}},
{"data":{"values":[{"y":2.5},{"y":7.5},{"y":12.5},{"y":17.5},{"y":22.5}]},"mark":{"type":"rule","color":"#EBEBEB","strokeWidth":1},"encoding":{"x":null}},
{"data":{"values":[
{"c":1,"x":7,"y":9.1},{"c":1,"x":11,"y":14.3},{"c":1,"x":15,"y":18.2},{"c":1,"x":19,"y":21},{"c":1,"x":23,"y":22.8},{"c":1,"x":27,"y":23.8},{"c":1,"x":31,"y":24.3},{"c":1,"x":35,"y":24.6},
{"c":2,"x":7,"y":8.4},{"c":2,"x":11,"y":13.7},{"c":2,"x":15,"y":18},{"c":2,"x":19,"y":20.9},{"c":2,"x":23,"y":22.6},{"c":2,"x":27,"y":23.6},{"c":2,"x":31,"y":24.1},{"c":2,"x":35,"y":24.35},
{"c":3,"x":7,"y":8.3},{"c":3,"x":11,"y":13.3},{"c":3,"x":15,"y":16.9},{"c":3,"x":19,"y":19.4},{"c":3,"x":23,"y":21},{"c":3,"x":27,"y":22},{"c":3,"x":31,"y":22.6},{"c":3,"x":35,"y":22.9},
{"c":4,"x":7,"y":7.9},{"c":4,"x":11,"y":12.6},{"c":4,"x":15,"y":15.8},{"c":4,"x":19,"y":18.2},{"c":4,"x":23,"y":19.6},{"c":4,"x":27,"y":20.4},{"c":4,"x":31,"y":20.9},{"c":4,"x":35,"y":21.1},
{"c":5,"x":7,"y":5},{"c":5,"x":11,"y":9.2},{"c":5,"x":15,"y":12.7},{"c":5,"x":19,"y":15.3},{"c":5,"x":23,"y":17.4},{"c":5,"x":27,"y":19},{"c":5,"x":31,"y":20.2},{"c":5,"x":35,"y":21},
{"c":6,"x":7,"y":7.1},{"c":6,"x":11,"y":11},{"c":6,"x":15,"y":14},{"c":6,"x":19,"y":15.9},{"c":6,"x":23,"y":17.5},{"c":6,"x":27,"y":18.6},{"c":6,"x":31,"y":19.5},{"c":6,"x":35,"y":20.05},
{"c":7,"x":7,"y":5.3},{"c":7,"x":11,"y":9.6},{"c":7,"x":15,"y":13},{"c":7,"x":19,"y":15.6},{"c":7,"x":23,"y":17.3},{"c":7,"x":27,"y":18.5},{"c":7,"x":31,"y":19.4},{"c":7,"x":35,"y":19.95},
{"c":8,"x":7,"y":6.9},{"c":8,"x":11,"y":11},{"c":8,"x":15,"y":14},{"c":8,"x":19,"y":16},{"c":8,"x":23,"y":17.6},{"c":8,"x":27,"y":18.6},{"c":8,"x":31,"y":19.2},{"c":8,"x":35,"y":19.5},
{"c":9,"x":7,"y":6.5},{"c":9,"x":11,"y":10.7},{"c":9,"x":15,"y":13.8},{"c":9,"x":19,"y":15.9},{"c":9,"x":23,"y":17.2},{"c":9,"x":27,"y":18},{"c":9,"x":31,"y":18.4},{"c":9,"x":35,"y":18.65},
{"c":10,"x":7,"y":6.3},{"c":10,"x":11,"y":10.4},{"c":10,"x":15,"y":13.4},{"c":10,"x":19,"y":15.5},{"c":10,"x":23,"y":16.9},{"c":10,"x":27,"y":17.7},{"c":10,"x":31,"y":18.1},{"c":10,"x":35,"y":18.25},
{"c":11,"x":7,"y":6},{"c":11,"x":11,"y":10.2},{"c":11,"x":15,"y":13.4},{"c":11,"x":19,"y":15.6},{"c":11,"x":23,"y":16.9},{"c":11,"x":27,"y":17.5},{"c":11,"x":31,"y":17.75},{"c":11,"x":35,"y":17.85},
{"c":12,"x":7,"y":5.8},{"c":12,"x":11,"y":10},{"c":12,"x":15,"y":13.1},{"c":12,"x":19,"y":15.3},{"c":12,"x":23,"y":16.6},{"c":12,"x":27,"y":17.2},{"c":12,"x":31,"y":17.4},{"c":12,"x":35,"y":17.5},
{"c":13,"x":7,"y":6},{"c":13,"x":11,"y":10.4},{"c":13,"x":15,"y":13.6},{"c":13,"x":19,"y":15.6},{"c":13,"x":23,"y":16.4},{"c":13,"x":27,"y":16.8},{"c":13,"x":31,"y":17},{"c":13,"x":35,"y":17.1},
{"c":14,"x":7,"y":5},{"c":14,"x":11,"y":9.2},{"c":14,"x":15,"y":12.2},{"c":14,"x":19,"y":14.4},{"c":14,"x":23,"y":15.7},{"c":14,"x":27,"y":16.4},{"c":14,"x":31,"y":16.8},{"c":14,"x":35,"y":16.9},
{"c":15,"x":7,"y":5.2},{"c":15,"x":11,"y":9.4},{"c":15,"x":15,"y":12.4},{"c":15,"x":19,"y":14.6},{"c":15,"x":23,"y":15.8},{"c":15,"x":27,"y":16.5},{"c":15,"x":31,"y":16.85},{"c":15,"x":35,"y":17},
{"c":16,"x":7,"y":4.9},{"c":16,"x":11,"y":8.6},{"c":16,"x":15,"y":11.2},{"c":16,"x":19,"y":13},{"c":16,"x":23,"y":14.1},{"c":16,"x":27,"y":14.9},{"c":16,"x":31,"y":15.4},{"c":16,"x":35,"y":15.6},
{"c":17,"x":7,"y":4.7},{"c":17,"x":11,"y":8.3},{"c":17,"x":15,"y":11},{"c":17,"x":19,"y":12.9},{"c":17,"x":23,"y":14.1},{"c":17,"x":27,"y":14.8},{"c":17,"x":31,"y":15.2},{"c":17,"x":35,"y":15.35},
{"c":18,"x":7,"y":5.1},{"c":18,"x":11,"y":8.9},{"c":18,"x":15,"y":11.5},{"c":18,"x":19,"y":13.1},{"c":18,"x":23,"y":14},{"c":18,"x":27,"y":14.5},{"c":18,"x":31,"y":14.7},{"c":18,"x":35,"y":14.8},
{"c":19,"x":7,"y":4.3},{"c":19,"x":11,"y":7.9},{"c":19,"x":15,"y":10.3},{"c":19,"x":19,"y":11.9},{"c":19,"x":23,"y":12.8},{"c":19,"x":27,"y":13.3},{"c":19,"x":31,"y":13.6},{"c":19,"x":35,"y":13.8},
{"c":20,"x":7,"y":4.9},{"c":20,"x":11,"y":8.1},{"c":20,"x":15,"y":10.6},{"c":20,"x":19,"y":12},{"c":20,"x":23,"y":12.8},{"c":20,"x":27,"y":13.2},{"c":20,"x":31,"y":13.4},{"c":20,"x":35,"y":13.5},
{"c":21,"x":7,"y":4.1},{"c":21,"x":11,"y":7.4},{"c":21,"x":15,"y":10},{"c":21,"x":19,"y":11.7},{"c":21,"x":23,"y":12.8},{"c":21,"x":27,"y":13.2},{"c":21,"x":31,"y":13.35},{"c":21,"x":35,"y":13.45},
{"c":22,"x":7,"y":3},{"c":22,"x":11,"y":5},{"c":22,"x":15,"y":6.9},{"c":22,"x":19,"y":8.5},{"c":22,"x":23,"y":9.9},{"c":22,"x":27,"y":11.1},{"c":22,"x":31,"y":12.3},{"c":22,"x":35,"y":13.2},
{"c":23,"x":7,"y":3},{"c":23,"x":11,"y":4.8},{"c":23,"x":15,"y":6.5},{"c":23,"x":19,"y":8.1},{"c":23,"x":23,"y":9.4},{"c":23,"x":27,"y":10.6},{"c":23,"x":31,"y":11.9},{"c":23,"x":35,"y":13},
{"c":24,"x":7,"y":4},{"c":24,"x":11,"y":6.8},{"c":24,"x":15,"y":8.9},{"c":24,"x":19,"y":10.1},{"c":24,"x":23,"y":10.7},{"c":24,"x":27,"y":11},{"c":24,"x":31,"y":11.2},{"c":24,"x":35,"y":11.3},
{"c":25,"x":7,"y":3.9},{"c":25,"x":11,"y":6.6},{"c":25,"x":15,"y":8.6},{"c":25,"x":19,"y":9.5},{"c":25,"x":23,"y":10},{"c":25,"x":27,"y":10.25},{"c":25,"x":31,"y":10.4},{"c":25,"x":35,"y":10.45},
{"c":26,"x":7,"y":3.8},{"c":26,"x":11,"y":6.9},{"c":26,"x":15,"y":9.8},{"c":26,"x":19,"y":11.5},{"c":26,"x":23,"y":12.4},{"c":26,"x":27,"y":13},{"c":26,"x":31,"y":13.3},{"c":26,"x":35,"y":13.45},
{"c":27,"x":7,"y":3.05},{"c":27,"x":11,"y":5.4},{"c":27,"x":15,"y":7.3},{"c":27,"x":19,"y":8.3},{"c":27,"x":23,"y":9},{"c":27,"x":27,"y":9.35},{"c":27,"x":31,"y":9.55},{"c":27,"x":35,"y":9.7},
{"c":28,"x":7,"y":4.2},{"c":28,"x":11,"y":8.2},{"c":28,"x":15,"y":11.3},{"c":28,"x":19,"y":12.9},{"c":28,"x":23,"y":14},{"c":28,"x":27,"y":14.6},{"c":28,"x":31,"y":15.1},{"c":28,"x":35,"y":15.3},
{"c":29,"x":7,"y":6.1},{"c":29,"x":11,"y":10.3},{"c":29,"x":15,"y":13.5},{"c":29,"x":19,"y":15.9},{"c":29,"x":23,"y":17},{"c":29,"x":27,"y":17.5},{"c":29,"x":31,"y":17.7},{"c":29,"x":35,"y":17.8},
{"c":30,"x":7,"y":5.6},{"c":30,"x":11,"y":9.9},{"c":30,"x":15,"y":13.2},{"c":30,"x":19,"y":15.7},{"c":30,"x":23,"y":17.1},{"c":30,"x":27,"y":17.8},{"c":30,"x":31,"y":18.1},{"c":30,"x":35,"y":18.3}
]},"mark":{"type":"line","color":"black","strokeWidth":1.5,"interpolate":"monotone"},"encoding":{"detail":{"field":"c"}}},
{"data":{"values":[{"x":1.07,"y":27.38}]},"mark":{"type":"point","filled":true,"opacity":1,"size":1936,"color":"black","strokeWidth":0}},
{"data":{"values":[{"x":1.07,"y":27.38,"t":"e"}]},"mark":{"type":"text","color":"white","font":"Open Sans","fontSize":36,"baseline":"middle","align":"center"},"encoding":{"text":{"field":"t"}}},
{"data":{"values":[{"x":5.6,"y":26.6,"t":"HEI"}]},"mark":{"type":"text","color":"#111111","font":"Open Sans","fontSize":30.5,"baseline":"alphabetic","align":"left"},"encoding":{"text":{"field":"t"}}}
]},
{"width":379,"height":380,
"encoding":{"x":{"field":"x","type":"quantitative","scale":{"domain":[5.68,36.34],"nice":false,"zero":false},"axis":{"values":[7,9,11,13,15,17,19,21,23,25,27,29,31,33,35],"labelAngle":-90,"title":"Age (years)","labelFontSize":16,"labelPadding":6,"titlePadding":4}},"y":{"field":"y","type":"quantitative","scale":{"domain":[-1.72,36.72],"nice":false,"zero":false},"axis":{"values":[0,5,10,15,20,25,30,35],"title":"DBH (cm)","labelFontSize":16,"labelPadding":7,"titlePadding":10}}},
"layer":[
{"data":{"values":[{"x":8},{"x":10},{"x":12},{"x":14},{"x":16},{"x":18},{"x":20},{"x":22},{"x":24},{"x":26},{"x":28},{"x":30},{"x":32},{"x":34},{"x":36}]},"mark":{"type":"rule","color":"#EBEBEB","strokeWidth":1},"encoding":{"y":null}},
{"data":{"values":[{"y":2.5},{"y":7.5},{"y":12.5},{"y":17.5},{"y":22.5},{"y":27.5},{"y":32.5}]},"mark":{"type":"rule","color":"#EBEBEB","strokeWidth":1},"encoding":{"x":null}},
{"data":{"values":[
{"c":1,"x":7,"y":12.8},{"c":1,"x":11,"y":16.2},{"c":1,"x":15,"y":19},{"c":1,"x":19,"y":21.2},{"c":1,"x":23,"y":22.9},{"c":1,"x":27,"y":24.4},{"c":1,"x":31,"y":25.3},{"c":1,"x":35,"y":25.75},
{"c":2,"x":7,"y":10.7},{"c":2,"x":11,"y":13.8},{"c":2,"x":15,"y":17.3},{"c":2,"x":19,"y":21.3},{"c":2,"x":23,"y":24.8},{"c":2,"x":27,"y":28.1},{"c":2,"x":31,"y":30.9},{"c":2,"x":35,"y":33.2},
{"c":3,"x":7,"y":9.5},{"c":3,"x":11,"y":12.6},{"c":3,"x":15,"y":16.6},{"c":3,"x":19,"y":20.3},{"c":3,"x":23,"y":23.3},{"c":3,"x":27,"y":26.2},{"c":3,"x":31,"y":28.4},{"c":3,"x":35,"y":30.05},
{"c":4,"x":7,"y":9.3},{"c":4,"x":11,"y":12.4},{"c":4,"x":15,"y":16},{"c":4,"x":19,"y":19.6},{"c":4,"x":23,"y":22.6},{"c":4,"x":27,"y":24.4},{"c":4,"x":31,"y":25.8},{"c":4,"x":35,"y":26.7},
{"c":5,"x":7,"y":8.8},{"c":5,"x":11,"y":12},{"c":5,"x":15,"y":15.3},{"c":5,"x":19,"y":17.9},{"c":5,"x":23,"y":20.2},{"c":5,"x":27,"y":21.9},{"c":5,"x":31,"y":23},{"c":5,"x":35,"y":23.8},
{"c":6,"x":7,"y":8.6},{"c":6,"x":11,"y":11.4},{"c":6,"x":15,"y":14.3},{"c":6,"x":19,"y":16.9},{"c":6,"x":23,"y":19.1},{"c":6,"x":27,"y":20.9},{"c":6,"x":31,"y":22.1},{"c":6,"x":35,"y":23.05},
{"c":7,"x":7,"y":9.4},{"c":7,"x":11,"y":11.6},{"c":7,"x":15,"y":13.4},{"c":7,"x":19,"y":15},{"c":7,"x":23,"y":16.4},{"c":7,"x":27,"y":18.3},{"c":7,"x":31,"y":19.7},{"c":7,"x":35,"y":20.7},
{"c":8,"x":7,"y":9},{"c":8,"x":11,"y":11.3},{"c":8,"x":15,"y":13},{"c":8,"x":19,"y":14.9},{"c":8,"x":23,"y":16.3},{"c":8,"x":27,"y":18.1},{"c":8,"x":31,"y":19.4},{"c":8,"x":35,"y":20.1},
{"c":9,"x":7,"y":8.8},{"c":9,"x":11,"y":11},{"c":9,"x":15,"y":12.7},{"c":9,"x":19,"y":14.7},{"c":9,"x":23,"y":16.1},{"c":9,"x":27,"y":18},{"c":9,"x":31,"y":19.3},{"c":9,"x":35,"y":20},
{"c":10,"x":7,"y":6.3},{"c":10,"x":11,"y":8.3},{"c":10,"x":15,"y":10.1},{"c":10,"x":19,"y":11.4},{"c":10,"x":23,"y":12.9},{"c":10,"x":27,"y":14.6},{"c":10,"x":31,"y":17},{"c":10,"x":35,"y":20.35},
{"c":11,"x":7,"y":7.5},{"c":11,"x":11,"y":10.1},{"c":11,"x":15,"y":12.3},{"c":11,"x":19,"y":14.2},{"c":11,"x":23,"y":15.8},{"c":11,"x":27,"y":17},{"c":11,"x":31,"y":18.1},{"c":11,"x":35,"y":19.05},
{"c":12,"x":7,"y":7.2},{"c":12,"x":11,"y":9.6},{"c":12,"x":15,"y":11.6},{"c":12,"x":19,"y":13.4},{"c":12,"x":23,"y":15.4},{"c":12,"x":27,"y":16.9},{"c":12,"x":31,"y":17.9},{"c":12,"x":35,"y":18.55},
{"c":13,"x":7,"y":6.8},{"c":13,"x":11,"y":9.3},{"c":13,"x":15,"y":11.6},{"c":13,"x":19,"y":13.6},{"c":13,"x":23,"y":15.2},{"c":13,"x":27,"y":16.9},{"c":13,"x":31,"y":17.8},{"c":13,"x":35,"y":18.3},
{"c":14,"x":7,"y":6.6},{"c":14,"x":11,"y":9.1},{"c":14,"x":15,"y":11.5},{"c":14,"x":19,"y":13.5},{"c":14,"x":23,"y":15},{"c":14,"x":27,"y":16.4},{"c":14,"x":31,"y":17.6},{"c":14,"x":35,"y":18},
{"c":15,"x":7,"y":6.5},{"c":15,"x":11,"y":9},{"c":15,"x":15,"y":11.2},{"c":15,"x":19,"y":13.3},{"c":15,"x":23,"y":14.9},{"c":15,"x":27,"y":16},{"c":15,"x":31,"y":17.4},{"c":15,"x":35,"y":17.9},
{"c":16,"x":7,"y":6.4},{"c":16,"x":11,"y":8.8},{"c":16,"x":15,"y":11},{"c":16,"x":19,"y":12.8},{"c":16,"x":23,"y":14.6},{"c":16,"x":27,"y":16.4},{"c":16,"x":31,"y":17.4},{"c":16,"x":35,"y":17.8},
{"c":17,"x":7,"y":6.2},{"c":17,"x":11,"y":8.6},{"c":17,"x":15,"y":10.6},{"c":17,"x":19,"y":12.3},{"c":17,"x":23,"y":14.3},{"c":17,"x":27,"y":16.2},{"c":17,"x":31,"y":17.2},{"c":17,"x":35,"y":17.7},
{"c":18,"x":7,"y":7},{"c":18,"x":11,"y":9.5},{"c":18,"x":15,"y":11.9},{"c":18,"x":19,"y":13.3},{"c":18,"x":23,"y":14.7},{"c":18,"x":27,"y":15.8},{"c":18,"x":31,"y":16.6},{"c":18,"x":35,"y":17.05},
{"c":19,"x":7,"y":6},{"c":19,"x":11,"y":8.5},{"c":19,"x":15,"y":10.8},{"c":19,"x":19,"y":12.6},{"c":19,"x":23,"y":14.3},{"c":19,"x":27,"y":15.9},{"c":19,"x":31,"y":17.4},{"c":19,"x":35,"y":18.5},
{"c":20,"x":7,"y":7.3},{"c":20,"x":11,"y":10},{"c":20,"x":15,"y":12.4},{"c":20,"x":19,"y":13.5},{"c":20,"x":23,"y":14.2},{"c":20,"x":27,"y":14.6},{"c":20,"x":31,"y":14.75},{"c":20,"x":35,"y":14.8},
{"c":21,"x":7,"y":6.9},{"c":21,"x":11,"y":9.6},{"c":21,"x":15,"y":11.9},{"c":21,"x":19,"y":13.1},{"c":21,"x":23,"y":13.8},{"c":21,"x":27,"y":14.1},{"c":21,"x":31,"y":14.25},{"c":21,"x":35,"y":14.3},
{"c":22,"x":7,"y":6.7},{"c":22,"x":11,"y":9.3},{"c":22,"x":15,"y":11.6},{"c":22,"x":19,"y":13.4},{"c":22,"x":23,"y":13.9},{"c":22,"x":27,"y":14.05},{"c":22,"x":31,"y":14.1},{"c":22,"x":35,"y":14.1},
{"c":23,"x":7,"y":6.1},{"c":23,"x":11,"y":8.3},{"c":23,"x":15,"y":9.8},{"c":23,"x":19,"y":11.6},{"c":23,"x":23,"y":12.5},{"c":23,"x":27,"y":13},{"c":23,"x":31,"y":13.3},{"c":23,"x":35,"y":13.5},
{"c":24,"x":7,"y":6.3},{"c":24,"x":11,"y":8.2},{"c":24,"x":15,"y":9.7},{"c":24,"x":19,"y":10.5},{"c":24,"x":23,"y":11.1},{"c":24,"x":27,"y":11.6},{"c":24,"x":31,"y":12},{"c":24,"x":35,"y":12.2},
{"c":25,"x":7,"y":6},{"c":25,"x":11,"y":8},{"c":25,"x":15,"y":9.4},{"c":25,"x":19,"y":10.4},{"c":25,"x":23,"y":11},{"c":25,"x":27,"y":11.5},{"c":25,"x":31,"y":11.85},{"c":25,"x":35,"y":12},
{"c":26,"x":7,"y":5.3},{"c":26,"x":11,"y":7.3},{"c":26,"x":15,"y":9.2},{"c":26,"x":19,"y":10.2},{"c":26,"x":23,"y":10.9},{"c":26,"x":27,"y":11.3},{"c":26,"x":31,"y":11.6},{"c":26,"x":35,"y":11.7},
{"c":27,"x":7,"y":3.75},{"c":27,"x":11,"y":5.1},{"c":27,"x":15,"y":6.4},{"c":27,"x":19,"y":7.5},{"c":27,"x":23,"y":8.3},{"c":27,"x":27,"y":8.8},{"c":27,"x":31,"y":9.15},{"c":27,"x":35,"y":9.35},
{"c":28,"x":7,"y":9.6},{"c":28,"x":11,"y":11.6},{"c":28,"x":15,"y":13.5},{"c":28,"x":19,"y":15},{"c":28,"x":23,"y":16.4},{"c":28,"x":27,"y":17.2},{"c":28,"x":31,"y":17.7},{"c":28,"x":35,"y":18}
]},"mark":{"type":"line","color":"black","strokeWidth":1.5,"interpolate":"monotone"},"encoding":{"detail":{"field":"c"}}},
{"data":{"values":[{"x":2.53,"y":38.34}]},"mark":{"type":"point","filled":true,"opacity":1,"size":1936,"color":"black","strokeWidth":0}},
{"data":{"values":[{"x":2.53,"y":38.34,"t":"f"}]},"mark":{"type":"text","color":"white","font":"Open Sans","fontSize":36,"baseline":"middle","align":"center"},"encoding":{"text":{"field":"t"}}},
{"data":{"values":[{"x":5.76,"y":37.2,"t":"DBH"}]},"mark":{"type":"text","color":"#111111","font":"Open Sans","fontSize":30.5,"baseline":"alphabetic","align":"left"},"encoding":{"text":{"field":"t"}}}
]}
]}]}
],
"config":{"view":{"stroke":"#7A7A7A","strokeWidth":1.5},
"axis":{"grid":true,"gridColor":"#EBEBEB","gridWidth":2,"tickColor":"#333333","tickSize":4,"domain":false,"labelColor":"#4D4D4D","labelFont":"Liberation Sans","labelFontSize":17,"titleFont":"Liberation Sans","titleFontSize":27,"titleFontWeight":"normal","titleColor":"#111111","labelOverlap":false,"labelFlush":false,"labelBound":false,"labelPadding":2},
"legend":{"titleFont":"Liberation Sans","titleFontSize":20.5,"titleFontWeight":"normal","titleColor":"#111111","labelFont":"Liberation Sans","labelFontSize":13.5,"labelColor":"#222222","symbolType":"circle","symbolSize":90,"symbolStrokeWidth":0,"padding":0,"titlePadding":9}}}
